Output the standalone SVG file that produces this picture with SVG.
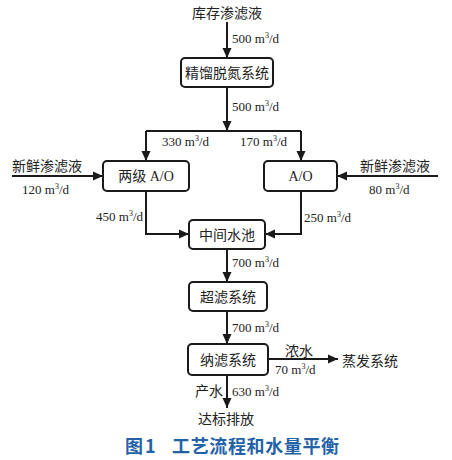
<svg xmlns="http://www.w3.org/2000/svg" width="452" height="460" viewBox="0 0 452 460">
<defs>
<marker id="ah" markerUnits="userSpaceOnUse" markerWidth="10" markerHeight="10" viewBox="0 0 10 10" refX="10" refY="5" orient="auto">
<path d="M0,0.5 L10,5 L0,9.5 Z" fill="#1a1a1a"/>
</marker>
<style>
.bx{fill:#fff;stroke:#1a1a1a;stroke-width:2}
.ln{fill:none;stroke:#1a1a1a;stroke-width:2}
.ar{fill:none;stroke:#1a1a1a;stroke-width:2;marker-end:url(#ah)}
.cn{font-family:"Liberation Serif","Noto Sans CJK SC",serif;font-size:14px;fill:#222}
.nm{font-family:"Liberation Serif",serif;font-size:13px;fill:#222}
.sp{font-size:8px}
.cap{font-family:"Noto Sans CJK SC",sans-serif;font-size:18px;font-weight:bold;fill:#2462a8}
</style>
</defs>
<rect width="452" height="460" fill="#fff"/>
<g id="connectors">
<line class="ar" x1="227" y1="22" x2="227" y2="58"/>
<line class="ar" x1="227" y1="87" x2="227" y2="131"/>
<polyline class="ln" points="146,131 301,131"/>
<line class="ar" x1="146" y1="131" x2="146" y2="161"/>
<line class="ar" x1="301" y1="131" x2="301" y2="161"/>
<line class="ar" x1="12" y1="176" x2="103" y2="176"/>
<line class="ar" x1="438" y1="176" x2="337" y2="176"/>
<polyline class="ar" points="146,191 146,234 189,234"/>
<polyline class="ar" points="301,191 301,234 265,234"/>
<line class="ar" x1="227" y1="249" x2="227" y2="282"/>
<line class="ar" x1="227" y1="311" x2="227" y2="344"/>
<line class="ar" x1="268" y1="359" x2="338" y2="359"/>
<line class="ar" x1="227" y1="375" x2="227" y2="408"/>
</g>
<g id="labels">
<text class="cn" x="227" y="18" text-anchor="middle">库存渗滤液</text>
<text class="nm" x="232" y="43">500 m<tspan class="sp" dy="-5">3</tspan><tspan dy="5">/d</tspan></text>
<text class="nm" x="232" y="111">500 m<tspan class="sp" dy="-5">3</tspan><tspan dy="5">/d</tspan></text>
<text class="nm" x="162" y="146">330 m<tspan class="sp" dy="-5">3</tspan><tspan dy="5">/d</tspan></text>
<text class="nm" x="240" y="146">170 m<tspan class="sp" dy="-5">3</tspan><tspan dy="5">/d</tspan></text>
<text class="cn" x="12" y="171">新鲜渗滤液</text>
<text class="nm" x="22" y="194">120 m<tspan class="sp" dy="-5">3</tspan><tspan dy="5">/d</tspan></text>
<text class="cn" x="360" y="171">新鲜渗滤液</text>
<text class="nm" x="369" y="194">80 m<tspan class="sp" dy="-5">3</tspan><tspan dy="5">/d</tspan></text>
<text class="nm" x="143" y="221" text-anchor="end">450 m<tspan class="sp" dy="-5">3</tspan><tspan dy="5">/d</tspan></text>
<text class="nm" x="304" y="222">250 m<tspan class="sp" dy="-5">3</tspan><tspan dy="5">/d</tspan></text>
<text class="nm" x="232" y="267">700 m<tspan class="sp" dy="-5">3</tspan><tspan dy="5">/d</tspan></text>
<text class="nm" x="232" y="332">700 m<tspan class="sp" dy="-5">3</tspan><tspan dy="5">/d</tspan></text>
<text class="cn" x="285" y="356">浓水</text>
<text class="nm" x="275" y="374">70 m<tspan class="sp" dy="-5">3</tspan><tspan dy="5">/d</tspan></text>
<text class="cn" x="342" y="366">蒸发系统</text>
<text class="cn" x="223" y="396" text-anchor="end">产水</text>
<text class="nm" x="232" y="396">630 m<tspan class="sp" dy="-5">3</tspan><tspan dy="5">/d</tspan></text>
<text class="cn" x="198" y="424">达标排放</text>
</g>
<g id="n1"><rect class="bx" x="181" y="58" width="92" height="29" rx="4"/><text class="cn" x="227" y="77.5" text-anchor="middle">精馏脱氮系统</text></g>
<g id="n2"><rect class="bx" x="103" y="161" width="86" height="30" rx="4"/><text class="cn" x="146" y="181" text-anchor="middle">两级 A/O</text></g>
<g id="n3"><rect class="bx" x="264" y="161" width="73" height="30" rx="4"/><text class="cn" x="300.5" y="181" text-anchor="middle">A/O</text></g>
<g id="n4"><rect class="bx" x="189" y="220" width="76" height="29" rx="4"/><text class="cn" x="227" y="239.5" text-anchor="middle">中间水池</text></g>
<g id="n5"><rect class="bx" x="189" y="282" width="78" height="29" rx="4"/><text class="cn" x="228" y="301.5" text-anchor="middle">超滤系统</text></g>
<g id="n6"><rect class="bx" x="188" y="344" width="80" height="31" rx="4"/><text class="cn" x="228" y="364.5" text-anchor="middle">纳滤系统</text></g>
<g id="caption">
<text class="cap" x="125" y="453">图<tspan x="145">1</tspan></text>
<text class="cap" x="172" y="453" textLength="167">工艺流程和水量平衡</text>
</g>
</svg>
